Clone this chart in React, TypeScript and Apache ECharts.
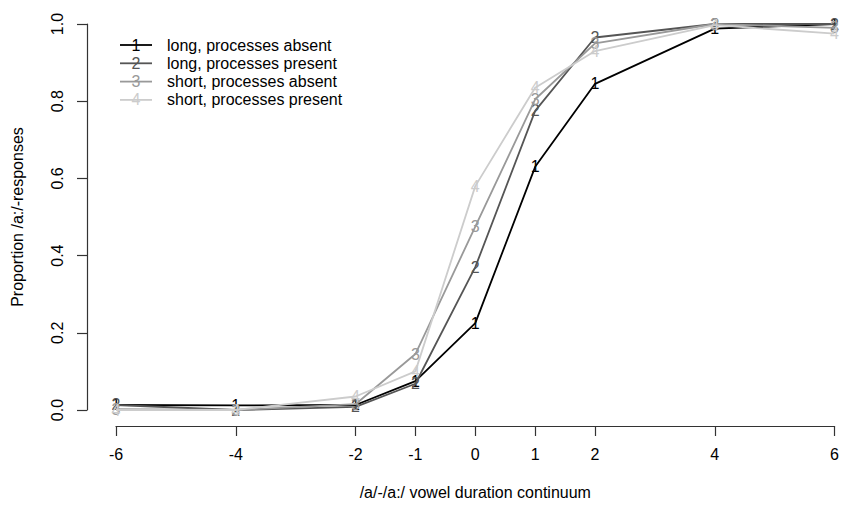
import React, { useEffect, useRef } from "react";
import * as echarts from "echarts";

const xValues = [-6, -4, -2, -1, 0, 1, 2, 4, 6];
const xTickValues = [-6, -4, -2, -1, 0, 1, 2, 4, 6];
const yTickValues = [0, 0.2, 0.4, 0.6, 0.8, 1.0];

const longAbsent = [0.013, 0.012, 0.013, 0.075, 0.225, 0.63, 0.845, 0.988, 1.0];
const longPresent = [0.013, 0.0, 0.008, 0.068, 0.37, 0.775, 0.965, 1.0, 1.0];
const shortAbsent = [0.002, 0.0, 0.015, 0.145, 0.475, 0.805, 0.95, 1.0, 0.99];
const shortPresent = [0.0, 0.0, 0.035, 0.1, 0.58, 0.835, 0.93, 0.997, 0.975];

const seriesNames = [
  "long, processes absent",
  "long, processes present",
  "short, processes absent",
  "short, processes present",
];
const seriesValues = [longAbsent, longPresent, shortAbsent, shortPresent];
const seriesColors = ["#000000", "#555555", "#999999", "#cccccc"];
const seriesDigits = ["1", "2", "3", "4"];

const FONT = "'Liberation Sans', Arial, Helvetica, sans-serif";

export default function App() {
  const ref = useRef<HTMLDivElement>(null);
  useEffect(() => {
    document.body.style.margin = "0";
    const chart = echarts.init(ref.current!, null, { renderer: "svg" });
    const series = seriesValues.map((vals, i) => ({
      type: "line",
      name: seriesNames[i],
      data: vals.map((v, j) => [xValues[j], v]),
      clip: false,
      symbol: "circle",
      symbolSize: 0,
      showSymbol: true,
      lineStyle: { color: seriesColors[i], width: 1.8 },
      itemStyle: { color: seriesColors[i] },
      label: {
        show: true,
        position: "inside",
        formatter: seriesDigits[i],
        color: seriesColors[i],
        textBorderWidth: 0,
        textBorderColor: "transparent",
        fontFamily: FONT,
        fontSize: 16,
      },
      emphasis: { disabled: true },
      z: 2 + i,
    }));

    const legendGraphics: any[] = [];
    seriesNames.forEach((name, i) => {
      const y = 45 + i * 18.3;
      legendGraphics.push({
        type: "line",
        shape: { x1: 120, y1: y, x2: 152, y2: y },
        style: { stroke: seriesColors[i], lineWidth: 1.8 },
      });
      legendGraphics.push({
        type: "text",
        x: 136,
        y: y,
        style: {
          text: seriesDigits[i],
          fill: seriesColors[i],
          font: `16px ${FONT}`,
          align: "center",
          verticalAlign: "middle",
        },
      });
      legendGraphics.push({
        type: "text",
        x: 167,
        y: y,
        style: {
          text: name,
          fill: "#000",
          font: `16px ${FONT}`,
          align: "left",
          verticalAlign: "middle",
        },
      });
    });

    chart.setOption({
      animation: false,
      grid: { left: 116, right: 5, top: 24, bottom: 93 },
      xAxis: {
        type: "value",
        min: -6,
        max: 6,
        interval: 1,
        offset: 16,
        name: "/a/-/a:/ vowel duration continuum",
        nameLocation: "middle",
        nameGap: 58,
        nameTextStyle: { fontFamily: FONT, fontSize: 16, color: "#000" },
        axisLine: { show: true, onZero: false, lineStyle: { color: "#333", width: 1.2 } },
        axisTick: { show: true, length: 10, customValues: xTickValues, lineStyle: { color: "#333", width: 1.2 } },
        axisLabel: {
          customValues: xTickValues,
          margin: 20,
          fontFamily: FONT,
          fontSize: 16,
          color: "#000",
        },
        splitLine: { show: false },
      },
      yAxis: {
        type: "value",
        min: 0,
        max: 1,
        interval: 0.2,
        offset: 29,
        name: "Proportion /a:/-responses",
        nameLocation: "middle",
        nameGap: 62,
        nameTextStyle: { fontFamily: FONT, fontSize: 16, color: "#000" },
        axisLine: { show: true, onZero: false, lineStyle: { color: "#333", width: 1.2 } },
        axisTick: { show: true, length: 10, customValues: yTickValues, lineStyle: { color: "#333", width: 1.2 } },
        axisLabel: {
          customValues: yTickValues,
          rotate: 90,
          margin: 22,
          fontFamily: FONT,
          fontSize: 16,
          color: "#000",
          formatter: (v: number) => v.toFixed(1),
        },
        splitLine: { show: false },
      },
      graphic: legendGraphics,
      series,
    });
    return () => chart.dispose();
  }, []);
  return <div ref={ref} style={{ width: 842, height: 505 }} />;
}
